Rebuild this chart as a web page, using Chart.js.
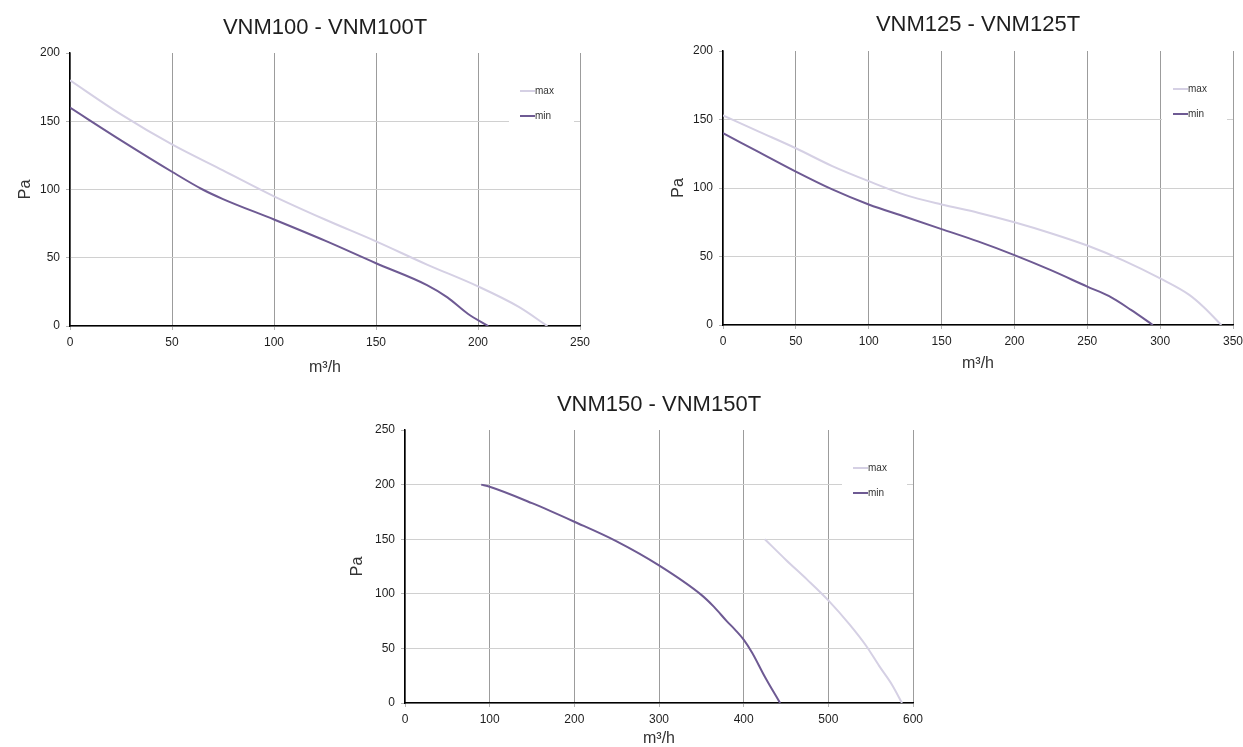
<!DOCTYPE html>
<html>
<head>
<meta charset="utf-8">
<script src="https://cdn.jsdelivr.net/npm/chart.js@4.4.1/dist/chart.umd.min.js"></script>
<style>
html, body { margin: 0; padding: 0; background: #fff; overflow: hidden; }
canvas { position: absolute; }
</style>
</head>
<body>
<canvas id="vnm100" width="620" height="380" style="left:0;top:0"></canvas>
<canvas id="vnm125" width="623" height="375" style="left:620px;top:0"></canvas>
<canvas id="vnm150" width="610" height="380" style="left:330px;top:380px"></canvas>
<script>
// VNM100 - VNM100T
const flow100Max = [0, 25, 50, 75, 100, 125, 150, 175, 200, 220, 234];
const pres100Max = [180, 155, 133, 114, 95, 78, 62, 45, 29, 14, 0];
const flow100Min = [0, 25, 50, 65, 75, 100, 125, 150, 175, 185, 195, 205];
const pres100Min = [160, 136, 113, 100, 93, 78, 62.5, 46, 30, 21, 9, 0];

// VNM125 - VNM125T
const flow125Max = [0, 25, 50, 75, 100, 125, 150, 175, 200, 225, 250, 275, 300, 320, 330, 342];
const pres125Max = [153, 141, 129, 116, 105, 95, 88, 82, 75, 67, 58, 47, 34, 22, 13, 0];
const flow125Min = [0, 25, 50, 75, 100, 125, 150, 175, 200, 225, 250, 265, 280, 295];
const pres125Min = [140, 126, 112, 99, 88, 79, 70, 61, 51, 40, 28, 21, 11, 0];

// VNM150 - VNM150T
const flow150Max = [425, 450, 475, 500, 525, 545, 560, 575, 587];
const pres150Max = [150, 131, 113, 94, 72, 52, 34, 17, 0];
const flow150Min = [90, 100, 150, 200, 250, 300, 350, 365, 380, 390, 400, 410, 425, 443];
const pres150Min = [200, 198, 183, 166, 148, 126, 99, 88, 75, 67, 58, 46, 24, 0];

const seriesLabels = ['max', 'min'];
const seriesColors = ['#d5d0e4', '#6e5a93'];

const FONT = '"Liberation Sans", Arial, sans-serif';
const TEXT = '#1e1e1e';

function pts(xs, ys) {
    return xs.map((x, i) => ({x: x, y: ys[i]}));
}

// legend drawn inside the plot, top right, on a white patch
const insideLegend = {
    id: 'insideLegend',
    afterDatasetsDraw(chart) {
        const {ctx, chartArea} = chart;
        const r = chartArea.right, t = chartArea.top;
        ctx.save();
        ctx.fillStyle = '#fff';
        ctx.fillRect(r - 71, t + 24, 65, 50);
        chart.data.datasets.forEach((ds, i) => {
            const y = t + 38 + i * 25;
            ctx.strokeStyle = ds.borderColor;
            ctx.lineWidth = 2;
            ctx.beginPath();
            ctx.moveTo(r - 60, y);
            ctx.lineTo(r - 45, y);
            ctx.stroke();
            ctx.fillStyle = '#333';
            ctx.font = '10px ' + FONT;
            ctx.textBaseline = 'middle';
            ctx.fillText(ds.label, r - 45, y);
        });
        ctx.restore();
    }
};

// box: canvas position on the page, plot: wanted plot area on the page
function makeChart(id, title, box, plot, labels, xMax, xStep, yMax, series) {
    const yW = plot.l - box.x;
    const xH = box.y + box.h - plot.b;
    const titleLh = 22 * 1.2;
    const titlePt = labels.titleY - box.y - titleLh / 2;
    const titlePb = plot.t - box.y - titleLh - titlePt;
    const yTitlePt = labels.yTitleX - box.x - 9.6;
    const xTitlePb = box.y + box.h - labels.xTitleY - 9.6;

    return new Chart(document.getElementById(id), {
        type: 'line',
        data: {
            datasets: series.map((s, i) => ({
                label: seriesLabels[i],
                data: s,
                borderColor: seriesColors[i],
                borderWidth: 2,
                pointRadius: 0,
                cubicInterpolationMode: 'monotone',
                fill: false
            }))
        },
        options: {
            responsive: false,
            animation: false,
            layout: {
                padding: {left: 0, top: 0, bottom: 0, right: box.x + box.w - plot.r}
            },
            plugins: {
                legend: {display: false},
                tooltip: {enabled: false},
                title: {
                    display: true,
                    text: title,
                    fullSize: false,
                    color: TEXT,
                    font: {family: FONT, size: 22, weight: 'normal', lineHeight: 1.2},
                    padding: {top: titlePt, bottom: titlePb}
                }
            },
            scales: {
                x: {
                    type: 'linear',
                    min: 0,
                    max: xMax,
                    ticks: {stepSize: xStep, color: TEXT, padding: 5, font: {family: FONT, size: 12}},
                    grid: {color: '#9c9c9c', tickColor: '#b5b5b5', tickLength: 4, lineWidth: 1},
                    border: {color: '#000', width: 1.5},
                    title: {
                        display: true,
                        text: 'm³/h',
                        color: '#333',
                        font: {family: FONT, size: 16, lineHeight: 1.2},
                        padding: {top: 0, bottom: xTitlePb}
                    },
                    afterFit(scale) {
                        scale.height = xH;
                        scale.paddingLeft = 0;
                        scale.paddingRight = 0;
                    }
                },
                y: {
                    min: 0,
                    max: yMax,
                    ticks: {stepSize: 50, color: TEXT, padding: 6, font: {family: FONT, size: 12}},
                    grid: {
                        color: c => (c.tick && c.tick.value === yMax) ? 'rgba(0,0,0,0)' : '#d0d0d0',
                        tickColor: '#b5b5b5',
                        tickLength: 4,
                        lineWidth: 1
                    },
                    border: {color: '#000', width: 1.5},
                    title: {
                        display: true,
                        text: 'Pa',
                        color: '#333',
                        font: {family: FONT, size: 16, lineHeight: 1.2},
                        padding: {top: yTitlePt, bottom: 0}
                    },
                    afterFit(scale) {
                        scale.width = yW;
                        scale.paddingTop = 0;
                        scale.paddingBottom = 0;
                    }
                }
            }
        },
        plugins: [insideLegend]
    });
}

makeChart('vnm100', 'VNM100 - VNM100T',
    {x: 0, y: 0, w: 620, h: 380},
    {l: 70, t: 53, r: 580, b: 326},
    {titleY: 28, yTitleX: 26, xTitleY: 368},
    250, 50, 200,
    [pts(flow100Max, pres100Max), pts(flow100Min, pres100Min)]);

makeChart('vnm125', 'VNM125 - VNM125T',
    {x: 620, y: 0, w: 623, h: 375},
    {l: 723, t: 51, r: 1233, b: 325},
    {titleY: 25, yTitleX: 679, xTitleY: 364},
    350, 50, 200,
    [pts(flow125Max, pres125Max), pts(flow125Min, pres125Min)]);

makeChart('vnm150', 'VNM150 - VNM150T',
    {x: 330, y: 380, w: 610, h: 380},
    {l: 405, t: 430, r: 913, b: 703},
    {titleY: 405, yTitleX: 358, xTitleY: 739},
    600, 100, 250,
    [pts(flow150Max, pres150Max), pts(flow150Min, pres150Min)]);
</script>
</body>
</html>
